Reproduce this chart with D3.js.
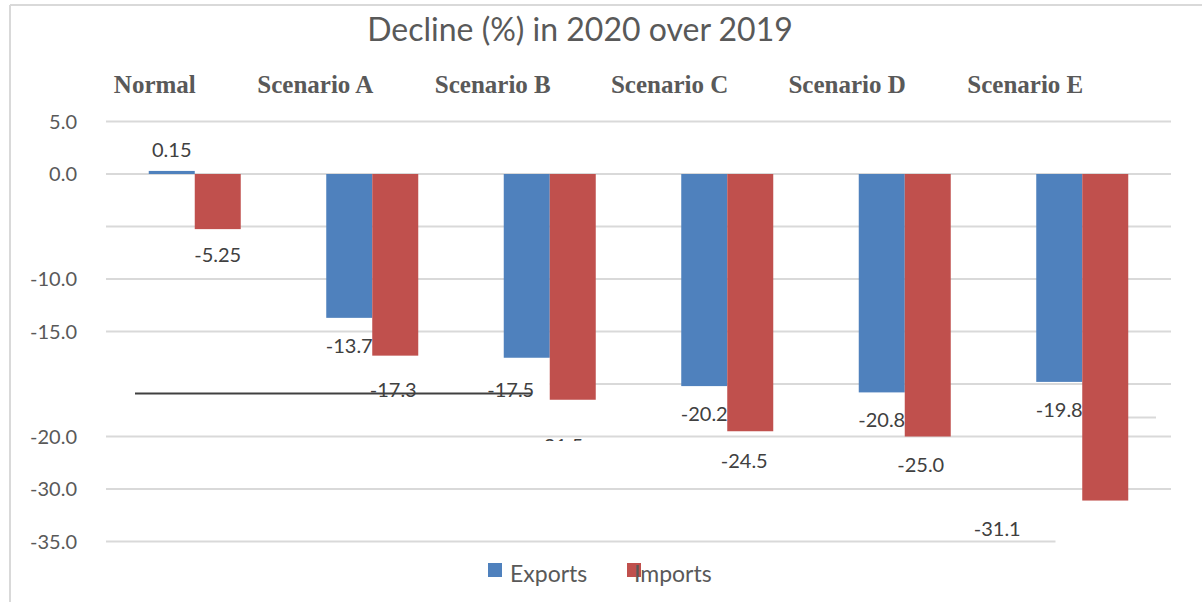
<!DOCTYPE html>
<html><head><meta charset="utf-8">
<script src="https://cdn.jsdelivr.net/npm/d3@7"></script>
<style>body{margin:0;background:#fff}svg{display:block}</style>
</head><body>
<svg id="c" width="1202" height="602"></svg>
<script>
const categories = ["Normal","Scenario A","Scenario B","Scenario C","Scenario D","Scenario E"];
const seriesNames = ["Exports","Imports"];
const exportsVals = [0.15,-13.7,-17.5,-20.2,-20.8,-19.8];
const importsVals = [-5.25,-17.3,-21.5,-24.5,-25.0,-31.1];
const exportsLabels = ["0.15","-13.7","-17.5","-20.2","-20.8","-19.8"];
const importsLabels = ["-5.25","-17.3","-21.5","-24.5","-25.0","-31.1"];
const gridValues = [5,0,-5,-10,-15,-20,-25,-30,-35];
const tickValues = [5,0,-10,-15,-25,-30,-35];
const tickLabels = ["5.0","0.0","-10.0","-15.0","-20.0","-30.0","-35.0"];
const titleText = "Decline (%) in 2020 over 2019";

const colors = {Exports:"#4F81BD", Imports:"#C0504D"};
const svg = d3.select("#c");
const font = "Lato, 'Open Sans', sans-serif";

const x = d3.scaleBand().domain(categories).range([106,1171]).padding(0);
const xs = d3.scaleBand().domain(seriesNames).range([0,92]).padding(0);
const y = d3.scaleLinear().domain([0,-10]).range([174,279]);

// frame
svg.append("line").attr("x1",10).attr("x2",1202).attr("y1",5).attr("y2",5).attr("stroke","#d9d9d9").attr("stroke-width",2);
svg.append("line").attr("x1",10).attr("x2",10).attr("y1",5).attr("y2",602).attr("stroke","#d9d9d9").attr("stroke-width",2);

// title
svg.append("text").attr("x",580).attr("y",41).attr("text-anchor","middle")
  .attr("font-family",font).attr("font-size",32).attr("fill","#595959").text(titleText);

// gridlines
const [x0,x1] = x.range();
svg.append("g").selectAll("line").data(gridValues).join("line")
  .attr("x1", d => d === -20 ? x("Scenario B") + x.bandwidth()/2 : x0)
  .attr("x2", d => d === -35 ? x("Scenario E") + 62 : x1)
  .attr("y1", d => y(d)).attr("y2", d => y(d))
  .attr("stroke","#d9d9d9").attr("stroke-width",2);
// stray gridline fragment
svg.append("line").attr("x1",1117).attr("x2",1156).attr("y1",y(-23.2)).attr("y2",y(-23.2))
  .attr("stroke","#d9d9d9").attr("stroke-width",2);

// y tick labels
svg.append("g").selectAll("text").data(tickValues).join("text")
  .attr("x",77).attr("y",d => y(d)).attr("dy","0.35em").attr("text-anchor","end")
  .attr("font-family",font).attr("font-size",20).attr("fill","#595959")
  .text((d,i) => tickLabels[i]);

// category labels (top)
svg.append("g").selectAll("text").data(categories).join("text")
  .attr("x", d => x(d) + x.bandwidth()/2 + 1).attr("y",93).attr("text-anchor","end")
  .attr("font-family","'Liberation Serif', 'Times New Roman', serif").attr("font-weight","bold")
  .attr("font-size",25).attr("fill","#595959").text(d => d);

// bars
const rows = categories.map((c,i) => [
  {cat:c, s:"Exports", v:exportsVals[i], lab:exportsLabels[i]},
  {cat:c, s:"Imports", v:importsVals[i], lab:importsLabels[i]}
]).flat();
svg.append("g").selectAll("rect").data(rows).join("rect")
  .attr("x", d => x(d.cat) + x.bandwidth()/2 - 46 + xs(d.s))
  .attr("width", xs.bandwidth())
  .attr("y", d => Math.min(y(0), y(d.v)) - (d.v > 0 ? 1.5 : 0))
  .attr("height", d => Math.abs(y(d.v) - y(0)) + (d.v > 0 ? 1.5 : 0))
  .attr("fill", d => colors[d.s]);

// stray dark line
svg.append("line").attr("x1",135).attr("x2",532).attr("y1",y(-20.9)).attr("y2",y(-20.9))
  .attr("stroke","#404040").attr("stroke-width",2);

// data labels
const nudge = {"-17.3":[-2,6], "-17.5":[-16,4], "-21.5":[-13,18], "-31.1":[-108,0], "-24.5":[-6,2], "-25.0":[-7,0], "-5.25":[0,-2]};
const defs = svg.append("defs");
defs.append("clipPath").attr("id","cut").append("rect").attr("x",0).attr("y",0).attr("width",1202).attr("height",441);
svg.append("g").selectAll("text").data(rows).join("text")
  .attr("x", d => x(d.cat) + x.bandwidth()/2 - 46 + xs(d.s) + xs.bandwidth()/2 + (nudge[d.lab] ? nudge[d.lab][0] : 0))
  .attr("y", d => (d.v > 0 ? y(d.v) - 22 : y(d.v) + 28) + (nudge[d.lab] ? nudge[d.lab][1] : 0))
  .attr("dy","0.35em").attr("text-anchor","middle")
  .attr("font-family",font).attr("font-size",20).attr("fill","#404040")
  .attr("clip-path", d => d.lab === "-21.5" ? "url(#cut)" : null)
  .text(d => d.lab);

// legend
const leg = svg.append("g");
leg.append("rect").attr("x",488).attr("y",563).attr("width",14).attr("height",14).attr("fill",colors.Exports);
leg.append("text").attr("x",510).attr("y",582).attr("font-family",font).attr("font-size",23).attr("fill","#595959").text(seriesNames[0]);
leg.append("rect").attr("x",627).attr("y",563).attr("width",14).attr("height",14).attr("fill",colors.Imports);
leg.append("text").attr("x",634).attr("y",582).attr("font-family",font).attr("font-size",23).attr("fill","#595959").text(seriesNames[1]);
</script>
</body></html>
